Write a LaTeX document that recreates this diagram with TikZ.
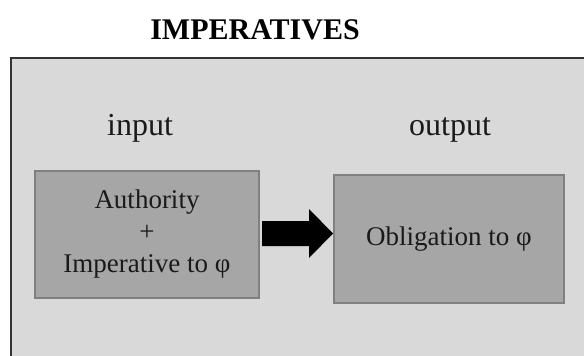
\documentclass[tikz,border=0pt]{standalone}
\usepackage{fontspec}
\setmainfont{Liberation Serif}
\usetikzlibrary{calc}
\definecolor{panel}{HTML}{D9D9D9}
\definecolor{boxfill}{HTML}{A6A6A6}
\definecolor{boxline}{HTML}{808080}
\definecolor{ink}{HTML}{1A1A1A}
\tikzset{
  stage/.style={draw=boxline, line width=2pt, fill=boxfill, text=ink,
    align=center, inner sep=0pt, font=\fontsize{27}{32}\selectfont},
  heading/.style={text=ink, inner sep=0pt, font=\fontsize{32}{36}\selectfont},
}
\begin{document}
\begin{tikzpicture}[x=1pt,y=-1pt]
  \useasboundingbox (0,0) rectangle (584,356);
  \begin{scope}
    \clip (0,0) rectangle (584,356);
    % background panel, running off the right and bottom edges
    \draw[fill=panel, draw=black!80, line width=1.5pt] (11,58) rectangle (600,370);
  \end{scope}
  % title
  \node[font=\fontsize{30}{34}\selectfont\bfseries, text=black, inner sep=0pt]
    (title) at (255,30) {IMPERATIVES};
  % column headings
  \node[heading, anchor=base] (inp) at (140,135) {input};
  \node[heading, anchor=base] (outp) at (450,135) {output};
  % stages
  \node[stage, minimum width=224pt, minimum height=127pt] (L) at (147,234.5)
    {Authority\\+\\Imperative to φ};
  \node[stage, minimum width=230pt, minimum height=128pt] (R) at (449,239)
    {Obligation to φ};
  % block arrow from input to output
  \coordinate (tail) at ($(L.east |- 0,233.5)+(2,0)$);
  \coordinate (tip) at (R.west |- tail);
  \fill[black] (tail) ++(0,-12.5) -- ($(tip)+(-24,-12.5)$) -- ($(tip)+(-24,-24.5)$)
    -- (tip) -- ($(tip)+(-24,24.5)$) -- ($(tip)+(-24,12.5)$) -- ($(tail)+(0,12.5)$) -- cycle;
\end{tikzpicture}
\end{document}
